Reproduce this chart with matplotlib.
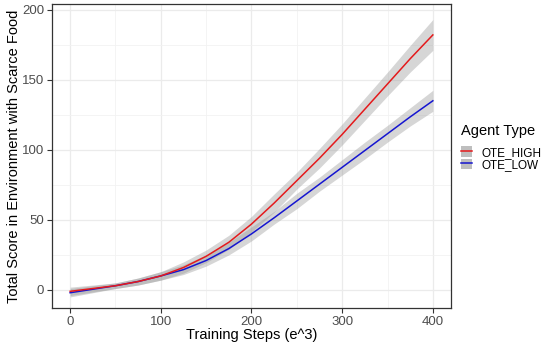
import matplotlib
matplotlib.use("Agg")
import matplotlib.pyplot as plt
from matplotlib.patches import Patch
from matplotlib.lines import Line2D
from matplotlib.legend_handler import HandlerTuple
from matplotlib.ticker import MultipleLocator

plt.rcParams['font.family'] = ['Liberation Sans', 'DejaVu Sans']

# training steps (e^3)
steps = [0, 25, 50, 75, 100, 125, 150, 175, 200, 225, 250, 275, 300, 325, 350, 375, 400]

# smoothed mean score per agent type
high_mean = [-1, 1, 3, 6, 10, 16, 24, 34, 47, 62, 78, 94, 111, 129, 147, 165, 182]
low_mean = [-2, 0.5, 3, 6, 10, 14.5, 21, 29.5, 40, 51.5, 63.5, 75.5, 87.5, 99.5, 111.5, 123.5, 135]

# half width of the grey band
high_band = [3.0, 2.5, 2.0, 2.5, 3.0, 4.0, 4.5, 5.0, 5.5, 6.5, 6.0, 7.0, 7.5, 8.0, 8.5, 9.5, 11.0]
low_band = [3.0, 2.5, 2.0, 2.5, 3.0, 3.5, 4.0, 4.5, 5.0, 4.5, 5.5, 5.0, 5.5, 6.0, 6.0, 6.5, 7.5]

labels = ["OTE_HIGH", "OTE_LOW"]
colors = ["#E41A1C", "#1515D0"]

fig = plt.figure(figsize=(5.45, 3.42), dpi=100)
ax = fig.add_axes([0.0954, 0.0994, 0.7321, 0.8886])

band_color = "#999999"
for mean, band, col in [(high_mean, high_band, colors[0]), (low_mean, low_band, colors[1])]:
    lo = [m - b for m, b in zip(mean, band)]
    hi = [m + b for m, b in zip(mean, band)]
    ax.fill_between(steps, lo, hi, color=band_color, alpha=0.4, linewidth=0, zorder=2)

ax.plot(steps, low_mean, color=colors[1], lw=1.1, zorder=3)
ax.plot(steps, high_mean, color=colors[0], lw=1.1, zorder=4)

ax.set_xlim(-20, 420)
ax.set_ylim(-12.9, 204)
ax.xaxis.set_major_locator(MultipleLocator(100))
ax.xaxis.set_minor_locator(MultipleLocator(50))
ax.yaxis.set_major_locator(MultipleLocator(50))
ax.yaxis.set_minor_locator(MultipleLocator(25))
ax.grid(which='major', color='#EBEBEB', lw=0.9, zorder=0)
ax.grid(which='minor', color='#F2F2F2', lw=0.6, zorder=0)
ax.set_axisbelow(True)
ax.tick_params(which='major', direction='out', length=3.5, width=0.8, color='#333333',
               labelsize=9.5, labelcolor='#4D4D4D', pad=2)
ax.tick_params(which='minor', length=0)
for sp in ax.spines.values():
    sp.set_color('#333333')
    sp.set_linewidth(0.9)

ax.set_xlabel("Training Steps (e^3)", fontsize=10.5, labelpad=0)
ax.set_ylabel("Total Score in Environment with Scarce Food", fontsize=10.5, labelpad=1)

handles = [(Patch(facecolor='#BEBEBE', edgecolor='none'), Line2D([], [], color=c, lw=1.1)) for c in colors]
leg = fig.legend(handles, labels, title="Agent Type", loc='upper left',
                 bbox_to_anchor=(0.846, 0.637), frameon=False, fontsize=8.5,
                 title_fontsize=10.5, handler_map={tuple: HandlerTuple(ndivide=1, pad=0)},
                 handlelength=0.95, handleheight=0.95, handletextpad=0.75, labelspacing=0.0,
                 borderaxespad=0, borderpad=0)
leg._legend_box.align = "left"
leg._legend_box.sep = 6

fig.savefig("out.png", dpi=100)
